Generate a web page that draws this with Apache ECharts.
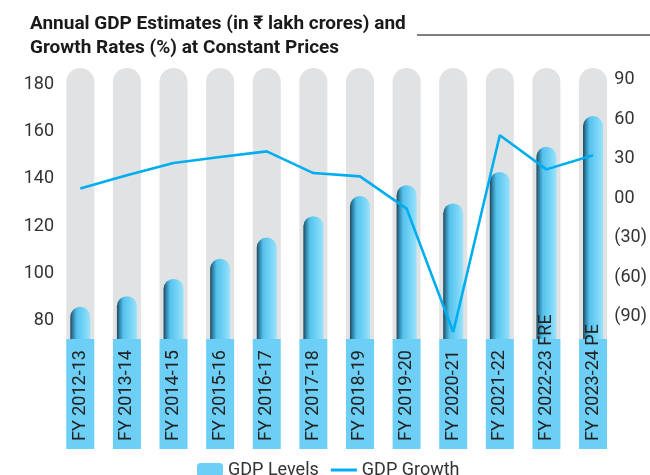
<!DOCTYPE html>
<html><head><meta charset="utf-8">
<script src="https://cdn.jsdelivr.net/npm/echarts@6/dist/echarts.min.js"></script>
<style>html,body{margin:0;padding:0;background:#fff}#c{width:650px;height:475px}</style>
</head><body><div id="c"></div>
<script>
const categories = ['FY 2012-13','FY 2013-14','FY 2014-15','FY 2015-16','FY 2016-17','FY 2017-18','FY 2018-19','FY 2019-20','FY 2020-21','FY 2021-22','FY 2022-23 FRE','FY 2023-24 PE'];
const gdpLevels = [85.9, 90.4, 97.7, 106.2, 115.2, 124.2, 132.7, 137.3, 129.6, 142.9, 153.5, 166.5];
const gdpGrowth = [7.4, 17.5, 26.8, 31.4, 35.7, 19.2, 16.7, -7.8, -101.7, 47.9, 22, 32.7];
const leftTicks = [80, 100, 120, 140, 160, 180];
const rightTicks = [-90, -60, -30, 0, 30, 60, 90];
const LEFT_MIN = 72.3, LEFT_MAX = 186.8, RIGHT_MIN = -107, RIGHT_MAX = 99.1;

const FONT = 'Roboto';
const chart = echarts.init(document.getElementById('c'), null, {renderer: 'canvas'});
const barGrad = new echarts.graphic.LinearGradient(0, 0, 1, 0, [
  {offset: 0, color: '#1f4456'},
  {offset: 0.12, color: '#2f7ea2'},
  {offset: 0.32, color: '#55c2ec'},
  {offset: 0.7, color: '#76d4f7'},
  {offset: 1, color: '#9be2fa'}
]);
chart.setOption({
  animation: false,
  textStyle: {fontFamily: FONT},
  title: {
    text: 'Annual GDP Estimates (in ₹ lakh crores) and\nGrowth Rates (%) at Constant Prices',
    left: 25, top: 7,
    textStyle: {fontFamily: FONT, fontSize: 19, fontWeight: 'bold', lineHeight: 24, color: '#1a1a1a'}
  },
  graphic: [{type: 'line', shape: {x1: 417, y1: 35, x2: 650, y2: 35}, style: {stroke: '#555', lineWidth: 1.4}}],
  legend: {
    left: 192, top: 456, itemGap: 12, itemWidth: 26, itemHeight: 14,
    textStyle: {fontSize: 18, color: '#333', fontFamily: FONT},
    data: [
      {name: 'GDP Levels', itemStyle: {color: '#6dcff6'}},
      {name: 'GDP Growth', icon: 'path://M0 0H26V3H0Z', itemStyle: {color: '#00aeef'}}
    ]
  },
  grid: {left: 57, right: 33, top: 68, bottom: 136},
  xAxis: [{
    type: 'category', data: categories, z: 10,
    axisLine: {show: false}, axisTick: {show: false},
    axisLabel: {
      interval: 0, rotate: 90, margin: 0, overflow: 'none',
      formatter: v => '{a|' + v + '}',
      rich: {a: {width: 102, height: 28, lineHeight: 28, align: 'left', overflow: 'none', padding: [0, 0, 0, 8], backgroundColor: '#6dcff6', color: '#222', fontSize: 18, fontFamily: FONT}}
    }
  }, {
    type: 'category', data: categories, show: false
  }],
  yAxis: [{
    type: 'value', min: LEFT_MIN, max: LEFT_MAX,
    splitLine: {show: false}, axisLine: {show: false}, axisTick: {show: false},
    axisLabel: {customValues: leftTicks, fontSize: 18, color: '#333', margin: 3}
  }, {
    type: 'value', min: RIGHT_MIN, max: RIGHT_MAX,
    splitLine: {show: false}, axisLine: {show: false}, axisTick: {show: false},
    axisLabel: {customValues: rightTicks, fontSize: 18, color: '#333', margin: -2,
      formatter: v => v === 0 ? '00' : (v < 0 ? '(' + (-v) + ')' : String(v))}
  }],
  series: [{
    name: 'bg', type: 'bar', xAxisIndex: 1, yAxisIndex: 0, data: gdpLevels, barWidth: 28,
    itemStyle: {color: 'rgba(0,0,0,0)'}, showBackground: true,
    backgroundStyle: {color: '#e1e2e4', borderRadius: [14, 14, 0, 0]},
    silent: true, z: 1
  }, {
    name: 'GDP Levels', type: 'bar', xAxisIndex: 0, yAxisIndex: 0, data: gdpLevels, barWidth: 20,
    itemStyle: {color: barGrad, borderRadius: [10, 10, 0, 0]}, z: 2
  }, {
    name: 'GDP Growth', type: 'line', xAxisIndex: 0, yAxisIndex: 1, data: gdpGrowth,
    symbol: 'none', lineStyle: {color: '#00aeef', width: 2.6}, itemStyle: {color: '#00aeef'}, z: 3
  }]
});
</script></body></html>
